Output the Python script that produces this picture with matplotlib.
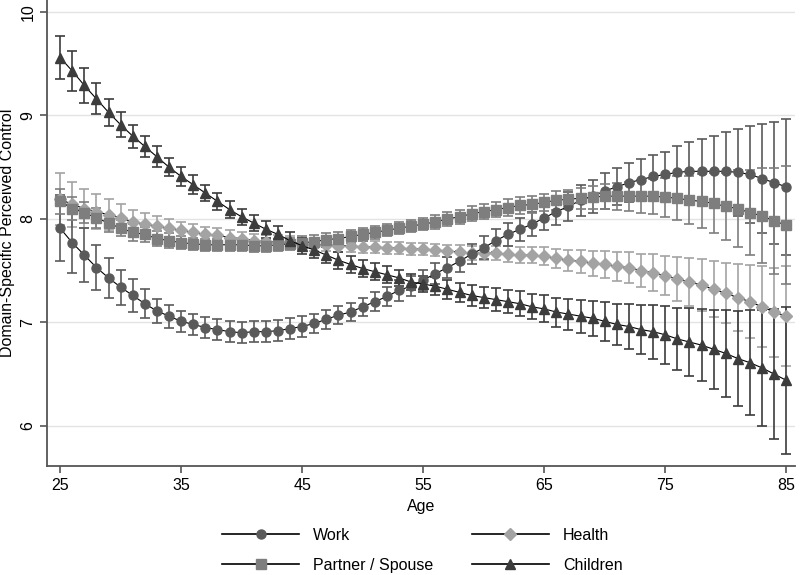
import matplotlib
matplotlib.use("Agg")
from matplotlib import pyplot as plt
from matplotlib.lines import Line2D

plt.rcParams['font.family'] = ['Liberation Sans', 'DejaVu Sans']

# Age 25..85, one value per year
ages = list(range(25, 86))

work = [7.91, 7.77, 7.65, 7.53, 7.43, 7.34, 7.26, 7.18, 7.11, 7.06,
        7.01, 6.98, 6.95, 6.93, 6.91, 6.90, 6.91, 6.91, 6.92, 6.94,
        6.96, 6.99, 7.03, 7.07, 7.10, 7.15, 7.20, 7.25, 7.31, 7.35,
        7.41, 7.47, 7.53, 7.59, 7.66, 7.72, 7.79, 7.85, 7.90, 7.95,
        8.01, 8.07, 8.12, 8.18, 8.22, 8.27, 8.31, 8.35, 8.38, 8.41,
        8.43, 8.45, 8.46, 8.46, 8.46, 8.46, 8.45, 8.43, 8.39, 8.35, 8.31]
work_err = [.32, .29, .26, .22, .19, .17, .16, .14, .12, .11,
            .10, .10, .10, .10, .10, .10, .10, .10, .10, .10,
            .10, .09, .09, .09, .09, .09, .09, .09, .10, .10,
            .10, .10, .10, .10, .10, .11, .11, .11, .11, .12,
            .12, .13, .14, .15, .16, .17, .18, .19, .20, .21,
            .22, .25, .28, .31, .34, .38, .42, .47, .53, .59, .66]

health = [8.19, 8.14, 8.10, 8.07, 8.04, 8.01, 7.97, 7.95, 7.93, 7.91,
          7.89, 7.87, 7.85, 7.84, 7.82, 7.81, 7.79, 7.78, 7.78, 7.77,
          7.76, 7.75, 7.75, 7.74, 7.74, 7.73, 7.73, 7.72, 7.72, 7.71,
          7.71, 7.70, 7.69, 7.68, 7.67, 7.67, 7.67, 7.66, 7.65, 7.65,
          7.64, 7.62, 7.60, 7.59, 7.57, 7.56, 7.54, 7.53, 7.50, 7.48,
          7.45, 7.42, 7.39, 7.36, 7.32, 7.28, 7.24, 7.20, 7.15, 7.10, 7.06]
health_err = [.25, .22, .19, .17, .15, .13, .12, .11, .10, .09,
              .08, .08, .07, .07, .07, .06, .06, .06, .06, .06,
              .06, .06, .06, .06, .06, .06, .06, .06, .06, .06,
              .06, .06, .06, .07, .07, .07, .07, .08, .08, .08,
              .09, .09, .10, .11, .12, .13, .14, .15, .16, .18,
              .19, .21, .23, .25, .27, .29, .32, .35, .39, .43, .48]

partner = [8.17, 8.10, 8.06, 8.01, 7.96, 7.91, 7.87, 7.85, 7.81, 7.79,
           7.77, 7.76, 7.75, 7.75, 7.75, 7.75, 7.74, 7.74, 7.75, 7.76,
           7.77, 7.78, 7.80, 7.81, 7.83, 7.85, 7.87, 7.89, 7.91, 7.93,
           7.95, 7.97, 8.00, 8.02, 8.05, 8.07, 8.09, 8.11, 8.13, 8.14,
           8.16, 8.18, 8.19, 8.20, 8.21, 8.22, 8.22, 8.22, 8.22, 8.22,
           8.21, 8.20, 8.18, 8.17, 8.15, 8.12, 8.10, 8.06, 8.03, 7.98, 7.94]
partner_err = [.12, .11, .10, .10, .09, .08, .08, .07, .07, .07,
               .06, .06, .06, .06, .06, .06, .06, .06, .06, .06,
               .06, .06, .06, .06, .06, .06, .06, .06, .06, .06,
               .06, .07, .07, .07, .07, .07, .07, .08, .08, .08,
               .08, .09, .09, .10, .11, .12, .13, .14, .16, .17,
               .19, .21, .23, .26, .29, .32, .37, .41, .46, .51, .57]

children = [9.56, 9.43, 9.29, 9.16, 9.03, 8.91, 8.80, 8.70, 8.60, 8.50,
            8.41, 8.33, 8.25, 8.17, 8.09, 8.02, 7.96, 7.90, 7.85, 7.79,
            7.74, 7.70, 7.65, 7.60, 7.56, 7.52, 7.49, 7.46, 7.43, 7.39,
            7.37, 7.35, 7.32, 7.29, 7.26, 7.24, 7.22, 7.20, 7.18, 7.15,
            7.13, 7.10, 7.08, 7.06, 7.04, 7.01, 6.98, 6.96, 6.93, 6.91,
            6.88, 6.84, 6.81, 6.78, 6.74, 6.70, 6.65, 6.61, 6.56, 6.50, 6.44]
children_err = [.21, .19, .17, .15, .13, .12, .11, .10, .10, .09,
                .09, .09, .08, .08, .08, .08, .08, .08, .08, .08,
                .08, .08, .08, .08, .08, .08, .08, .08, .08, .08,
                .08, .09, .09, .09, .10, .10, .11, .11, .12, .12,
                .13, .14, .15, .16, .17, .19, .20, .22, .24, .26,
                .28, .30, .33, .35, .38, .42, .46, .51, .56, .63, .71]

# name, values, errors, marker, grey, marker size
series = [
    ('Health', health, health_err, 'D', '#a3a3a3', 6.0),
    ('Work', work, work_err, 'o', '#5a5a5a', 6.5),
    ('Partner / Spouse', partner, partner_err, 's', '#7e7e7e', 6.5),
    ('Children', children, children_err, '^', '#3c3c3c', 7.0),
]

fig = plt.figure(figsize=(8, 5.75), dpi=100)
ax = fig.add_axes([0.059, 0.19, 0.935, 0.81])

for name, vals, err, mk, col, ms in series:
    ax.errorbar(ages, vals, yerr=err, fmt='none', ecolor=col,
                elinewidth=1.2, capsize=3.6, capthick=1.2, zorder=2)
    ax.plot(ages, vals, color='black', lw=0.8, marker=mk, ms=ms,
            mfc=col, mec=col, zorder=3)

ax.set_xlim(23.93, 85.74)
ax.set_ylim(5.614, 10.116)
ax.set_xticks([25, 35, 45, 55, 65, 75, 85])
ax.set_yticks([6, 7, 8, 9, 10])
ax.tick_params(axis='both', labelsize=11.5, direction='out', length=5,
               width=1.2, color='#555555')
for lbl in ax.get_yticklabels():
    lbl.set_rotation(90)
    lbl.set_va('center')
ax.grid(axis='y', color='#e3e3e3', lw=1.0)
ax.set_axisbelow(True)
for s in ['top', 'right']:
    ax.spines[s].set_visible(False)
for s in ['left', 'bottom']:
    ax.spines[s].set_color('#555555')
    ax.spines[s].set_linewidth(1.3)

ax.set_xlabel('Age', fontsize=11.5, labelpad=5)
ax.set_ylabel('Domain-Specific Perceived Control', fontsize=11.5, labelpad=4)

# legend proxies: black line, grey marker
styles = {s[0]: s for s in series}
order = ['Work', 'Partner / Spouse', 'Health', 'Children']
handles = []
for nm in order:
    _, _, _, mk, col, ms = styles[nm]
    handles.append(Line2D([], [], color='black', lw=1.2, marker=mk, ms=ms,
                          mfc=col, mec=col))
fig.legend(handles, order, loc='center', bbox_to_anchor=(0.528, 0.043),
           ncol=2, frameon=False, fontsize=11.5, handlelength=4.8,
           columnspacing=2.4, handletextpad=0.9, labelspacing=0.92)

plt.savefig('out.png')
